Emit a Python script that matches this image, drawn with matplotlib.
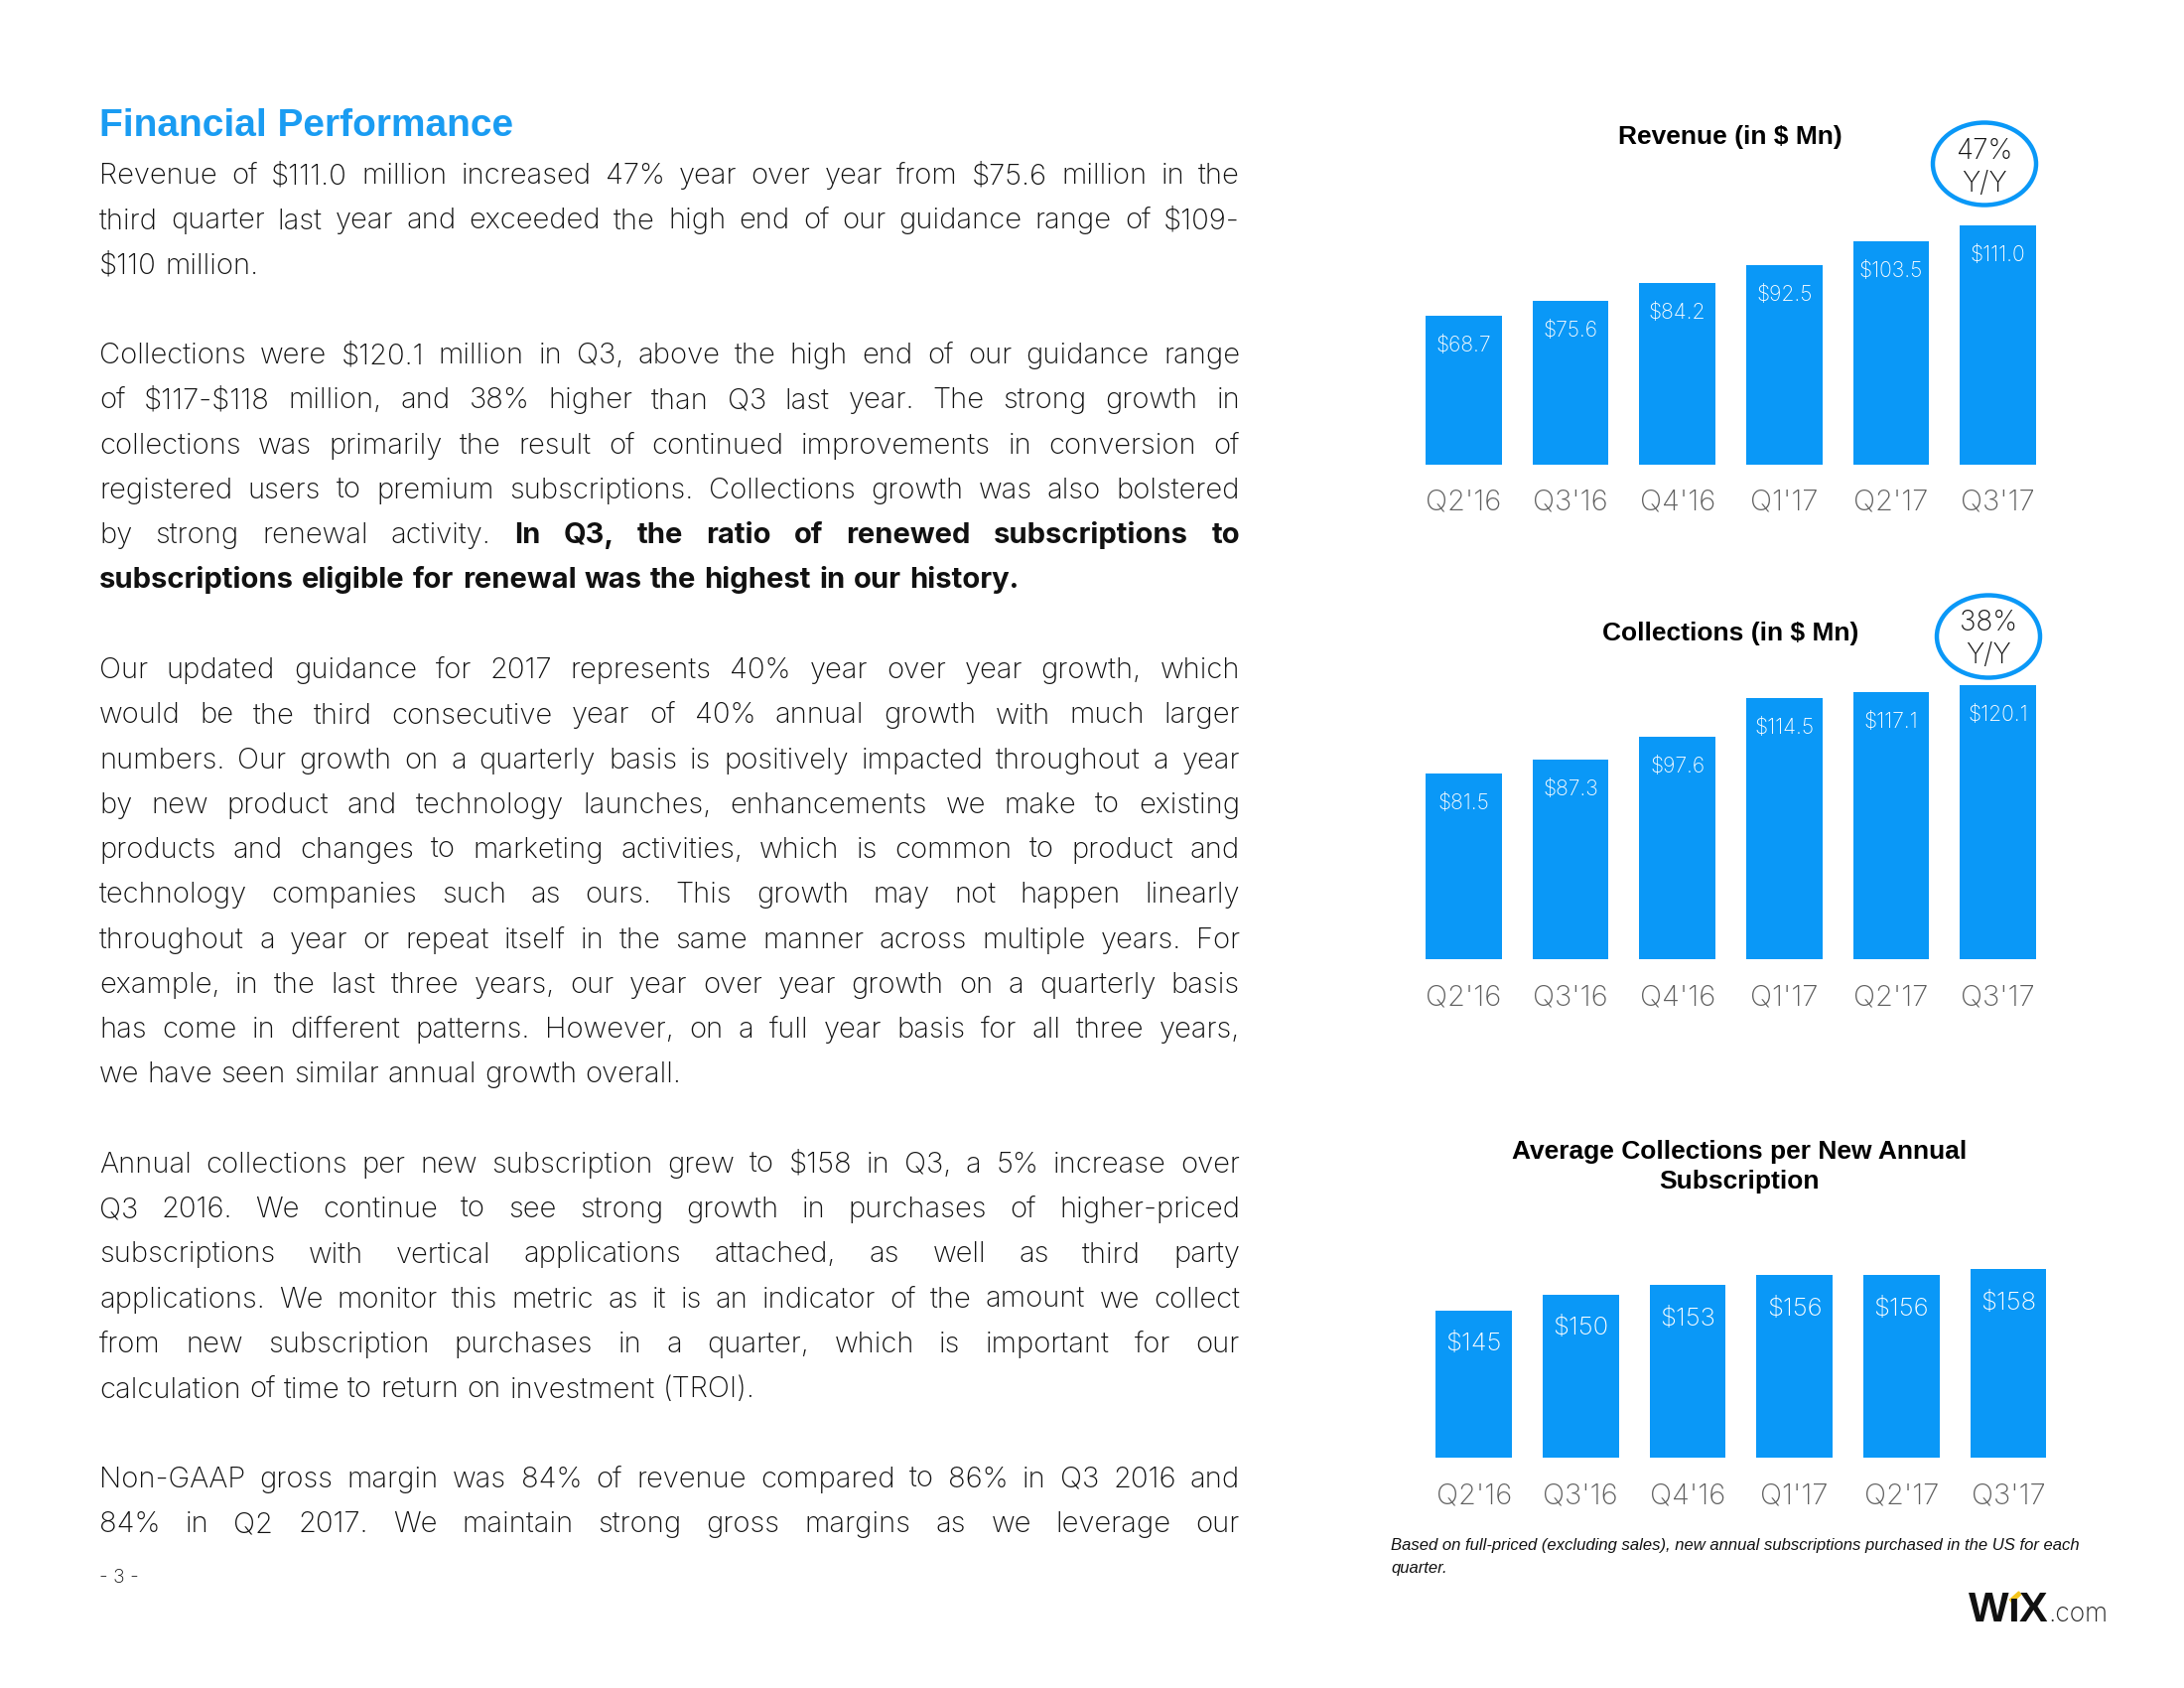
import matplotlib
matplotlib.use('Agg')
import matplotlib.pyplot as plt
from matplotlib.font_manager import FontProperties
from matplotlib.patches import Ellipse, Polygon

# ---- data ----
quarters = ["Q2'16", "Q3'16", "Q4'16", "Q1'17", "Q2'17", "Q3'17"]
revenue = [68.7, 75.6, 84.2, 92.5, 103.5, 111.0]
collections = [81.5, 87.3, 97.6, 114.5, 117.1, 120.1]
avg_collections = [145, 150, 153, 156, 156, 158]

revenue_growth = '47%'
collections_growth = '38%'

page_title = 'Financial Performance'
paragraphs = [
  ["Revenue of $111.0 million increased 47% year over year from $75.6 million in the",
   "third quarter last year and exceeded the high end of our guidance range of $109-",
   "$110 million."],
  ["Collections were $120.1 million in Q3, above the high end of our guidance range",
   "of $117-$118 million, and 38% higher than Q3 last year. The strong growth in",
   "collections was primarily the result of continued improvements in conversion of",
   "registered users to premium subscriptions. Collections growth was also bolstered",
   "by strong renewal activity. **In Q3, the ratio of renewed subscriptions to**",
   "**subscriptions eligible for renewal was the highest in our history.**"],
  ["Our updated guidance for 2017 represents 40% year over year growth, which",
   "would be the third consecutive year of 40% annual growth with much larger",
   "numbers. Our growth on a quarterly basis is positively impacted throughout a year",
   "by new product and technology launches, enhancements we make to existing",
   "products and changes to marketing activities, which is common to product and",
   "technology companies such as ours. This growth may not happen linearly",
   "throughout a year or repeat itself in the same manner across multiple years. For",
   "example, in the last three years, our year over year growth on a quarterly basis",
   "has come in different patterns. However, on a full year basis for all three years,",
   "we have seen similar annual growth overall."],
  ["Annual collections per new subscription grew to $158 in Q3, a 5% increase over",
   "Q3 2016. We continue to see strong growth in purchases of higher-priced",
   "subscriptions with vertical applications attached, as well as third party",
   "applications. We monitor this metric as it is an indicator of the amount we collect",
   "from new subscription purchases in a quarter, which is important for our",
   "calculation of time to return on investment (TROI)."],
  ["Non-GAAP gross margin was 84% of revenue compared to 86% in Q3 2016 and",
   "84% in Q2 2017. We maintain strong gross margins as we leverage our"],
]
# paragraph 5 runs on to the next page, so its last line is justified too
last_line_justified = [False, False, False, False, True]

footnote = ['Based on full-priced (excluding sales), new annual subscriptions purchased in the US for each',
            'quarter.']
page_number = '- 3 -'

BLUE = '#0a98f7'
TITLE_BLUE = '#1a9cf2'
TEXT = '#111111'
GRAY = '#5f5f5f'
FONT = 'Liberation Sans'
BODY_FONT = 'Inter'

W, H = 2200, 1700
fig = plt.figure(figsize=(22, 17), dpi=100)
fig.patch.set_facecolor('white')
renderer = fig.canvas.get_renderer()


def text_width(s, prop):
  w, h, d = renderer.get_text_width_height_descent(s, prop, ismath=False)
  return w


def put(x, y, s, **kw):
  # x, y in pixels from top-left of the page
  return fig.text(x / W, 1 - y / H, s, parse_math=False, **kw)


def tokens_of(line):
  toks = []
  for i, seg in enumerate(line.split('**')):
    for word in seg.split():
      toks.append((word, i % 2 == 1))
  return toks


def light(size):
  return FontProperties(family=BODY_FONT, size=size, weight='light')


# ---- body text (justified) ----
BODY_LEFT, BODY_RIGHT = 100, 1249
BODY_TOP, LINE_PITCH = 185, 45.27


def props(size):
  return light(size), FontProperties(family=BODY_FONT, size=size, weight='bold')


def min_width(toks, size):
  # width of a line when the spaces are squeezed to half their normal size
  reg, bold = props(size)
  space = text_width('a a', reg) - text_width('aa', reg)
  return sum(text_width(w, bold if b else reg) for w, b in toks) + 0.5 * space * (len(toks) - 1)


body_size = 21.0
widest = 0
for p, lines in enumerate(paragraphs):
  for i, line in enumerate(lines):
    if i < len(lines) - 1 or last_line_justified[p]:
      widest = max(widest, min_width(tokens_of(line), body_size))
if widest > (BODY_RIGHT - BODY_LEFT):
  body_size = body_size * (BODY_RIGHT - BODY_LEFT) / widest

reg, bold = props(body_size)
space_w = text_width('a a', reg) - text_width('aa', reg)

put(BODY_LEFT, 137, page_title, fontsize=28, fontweight='bold', color=TITLE_BLUE,
    family=FONT, va='baseline')

row = 0
for p, lines in enumerate(paragraphs):
  for i, line in enumerate(lines):
    toks = tokens_of(line)
    widths = [text_width(w, bold if b else reg) for w, b in toks]
    justify = i < len(lines) - 1 or last_line_justified[p]
    gap = space_w
    if justify and len(toks) > 1:
      gap = (BODY_RIGHT - BODY_LEFT - sum(widths)) / (len(toks) - 1)
    x = BODY_LEFT
    y = BODY_TOP + row * LINE_PITCH
    for (word, b), wd in zip(toks, widths):
      put(x, y, word, fontproperties=bold if b else reg, color=TEXT, va='baseline')
      x += wd + gap
    row += 1
  row += 1

put(BODY_LEFT, 1594, page_number, fontproperties=light(14), color=TEXT, va='baseline')


# ---- bar charts ----
def bar_chart(left, bottom, width, height, values, labels, ylim, label_size, label_offset):
  ax = fig.add_axes([left / W, 1 - bottom / H, width / W, height / H])
  xs = list(range(len(values)))
  ax.bar(xs, values, width=0.71, color=BLUE)
  ax.set_xlim(-0.5, len(values) - 0.5)
  ax.set_ylim(*ylim)
  ax.set_xticks(xs)
  ax.set_xticklabels(quarters, fontproperties=light(21), color=GRAY)
  ax.tick_params(axis='x', length=0, pad=18)
  ax.set_yticks([])
  for s in ax.spines.values():
    s.set_visible(False)
  ax.patch.set_alpha(0)
  for xi, v, lab in zip(xs, values, labels):
    ax.annotate(lab, (xi, v), xytext=(0, -label_offset), textcoords='offset pixels',
                ha='center', va='center', color='white', fontproperties=light(label_size),
                annotation_clip=False)
  return ax


def growth_badge(cx, cy, pct, base1, base2):
  e = Ellipse((cx / W, 1 - cy / H), 104 / W, 83 / H, transform=fig.transFigure,
              fill=False, edgecolor=BLUE, lw=3.2)
  fig.add_artist(e)
  put(cx, base1, pct, fontproperties=light(20), color=TEXT, ha='center', va='baseline')
  put(cx, base2, 'Y/Y', fontproperties=light(20), color=TEXT, ha='center', va='baseline')


# Revenue
rev_ylim = (0, 130)
bar_chart(1420.5, 467.5, 646, 2.17 * 130, revenue, ['$%.1f' % v for v in revenue],
          rev_ylim, 15.2, 30)
put(1743, 145, 'Revenue (in $ Mn)', fontsize=19, fontweight='bold', color='black',
    family=FONT, ha='center', va='baseline')
growth_badge(1999, 165, revenue_growth, 160, 193)

# Collections
col_ylim = (0, 130)
bar_chart(1420.5, 966, 646, 2.30 * 130, collections, ['$%.1f' % v for v in collections],
          col_ylim, 15.2, 30)
put(1743, 645, 'Collections (in $ Mn)', fontsize=19, fontweight='bold', color='black',
    family=FONT, ha='center', va='baseline')
growth_badge(2003, 641, collections_growth, 635, 668)

# Average collections per new annual subscription
avg_ylim = (99, 170)
bar_chart(1430.8, 1468, 646, 3.22 * 71, avg_collections, ['$%d' % v for v in avg_collections],
          avg_ylim, 18.5, 34)
put(1752, 1167, 'Average Collections per New Annual', fontsize=19, fontweight='bold',
    color='black', family=FONT, ha='center', va='baseline')
put(1752, 1197, 'Subscription', fontsize=19, fontweight='bold', color='black',
    family=FONT, ha='center', va='baseline')

put(1401, 1561, footnote[0], fontsize=12, style='italic', color=TEXT, family=FONT, va='baseline')
put(1401, 1584, footnote[1], fontsize=12, style='italic', color=TEXT, family=FONT, va='baseline')

# ---- wix logo ----
logo_prop = FontProperties(family=FONT, size=31, weight='bold')
x = 1983
for ch in ['W', '\u0131', 'X']:
  put(x, 1633, ch, fontproperties=logo_prop, color='#111111', va='baseline')
  if ch == '\u0131':
    ix = x + text_width(ch, logo_prop) / 2
    dot = Polygon([((ix - 4) / W, 1 - 1611 / H), ((ix + 5) / W, 1 - 1603 / H),
                   ((ix + 7) / W, 1 - 1606 / H), ((ix - 2) / W, 1 - 1614 / H)],
                  closed=True, transform=fig.transFigure, color='#f4c51c')
    fig.add_artist(dot)
  x += text_width(ch, logo_prop) - 1
put(x + 2, 1633, '.com', fontproperties=light(19), color='#222222', va='baseline')

fig.savefig('out.png', dpi=100, facecolor='white')
